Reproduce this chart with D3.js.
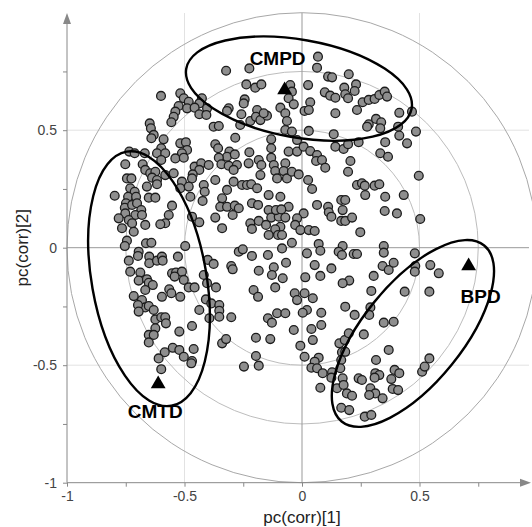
<!DOCTYPE html>
<html>
<head>
<meta charset="utf-8">
<script src="https://cdn.jsdelivr.net/npm/d3@7"></script>
<style>
  body { margin: 0; background: #fff; }
  text { font-family: "Liberation Sans", Arial, sans-serif; }
</style>
</head>
<body>
<script>
// loadings pc(corr)[1], pc(corr)[2], grouped by area
const upperLeft = [
  [-0.323,0.753],[-0.224,0.763],[-0.237,0.695],[-0.199,0.681],[-0.173,0.695],
  [-0.600,0.646],[-0.518,0.657],[-0.503,0.636],[-0.482,0.621],[-0.426,0.636],
  [-0.437,0.614],[-0.525,0.603],[-0.489,0.593],[-0.457,0.596],[-0.404,0.593],
  [-0.539,0.579],[-0.546,0.557],[-0.556,0.534],[-0.437,0.568],[-0.407,0.565],
  [-0.312,0.593],[-0.319,0.582],[-0.244,0.631],[-0.248,0.614],[-0.258,0.568],
  [-0.220,0.539],[-0.191,0.586],[-0.196,0.557],[-0.177,0.543],[-0.149,0.562],
  [-0.163,0.572],[-0.092,0.596],[-0.071,0.572],[-0.064,0.539],[-0.050,0.692],
  [-0.043,0.664],[-0.057,0.636],[-0.035,0.610],[-0.648,0.529],[-0.643,0.508],
  [-0.631,0.480],[-0.589,0.461],[-0.376,0.515],[-0.354,0.518],[-0.263,0.522],
  [-0.284,0.468],[-0.131,0.461],[-0.071,0.501],[-0.043,0.494]
];
const upperRight = [
  [0.068,0.813],[0.064,0.766],[0.111,0.728],[0.128,0.725],[0.199,0.738],
  [0.026,0.692],[0.097,0.661],[0.120,0.647],[0.142,0.638],[0.180,0.681],
  [0.184,0.653],[0.196,0.636],[0.230,0.695],[0.224,0.667],[0.258,0.619],
  [0.284,0.629],[0.309,0.633],[0.329,0.650],[0.352,0.664],[0.362,0.643],
  [0.035,0.619],[0.011,0.582],[0.029,0.586],[0.142,0.572],[0.234,0.586],
  [0.414,0.574],[0.468,0.579],[0.284,0.525],[0.277,0.515],[0.315,0.548],
  [0.337,0.534],[0.333,0.508],[0.409,0.515],[0.485,0.494],[0.414,0.477],
  [0.029,0.497],[0.135,0.483]
];
const midLeft = [
  [-0.641,0.466],[-0.518,0.444],[-0.494,0.449],[-0.489,0.416],[-0.511,0.402],
  [-0.539,0.380],[-0.503,0.383],[-0.599,0.423],[-0.617,0.402],[-0.582,0.402],
  [-0.599,0.373],[-0.735,0.409],[-0.712,0.402],[-0.669,0.402],[-0.752,0.355],
  [-0.678,0.355],[-0.667,0.331],[-0.646,0.317],[-0.624,0.323],[-0.638,0.298],
  [-0.617,0.288],[-0.582,0.309],[-0.546,0.317],[-0.511,0.281],[-0.518,0.253],
  [-0.745,0.295],[-0.726,0.295],[-0.617,0.270],[-0.369,0.440],[-0.357,0.423],
  [-0.309,0.409],[-0.319,0.387],[-0.286,0.397],[-0.354,0.383],[-0.343,0.355],
  [-0.312,0.349],[-0.277,0.352],[-0.291,0.331],[-0.457,0.345],[-0.429,0.359],
  [-0.397,0.352],[-0.437,0.331],[-0.465,0.312],[-0.468,0.295],[-0.482,0.260],
  [-0.475,0.217],[-0.418,0.267],[-0.414,0.238],[-0.423,0.199],[-0.369,0.288],
  [-0.319,0.246],[-0.291,0.281],[-0.255,0.267],[-0.234,0.267],[-0.216,0.270],
  [-0.191,0.253],[-0.224,0.406],[-0.227,0.359],[-0.184,0.373],[-0.173,0.352],
  [-0.177,0.309],[-0.131,0.423],[-0.131,0.383],[-0.120,0.352],[-0.114,0.326],
  [-0.071,0.359],[-0.078,0.326],[-0.064,0.295],[-0.057,0.409],[-0.106,0.295],
  [-0.142,0.224],[-0.092,0.217],[-0.340,0.210],[-0.348,0.174],[-0.319,0.174],
  [-0.286,0.179],[-0.269,0.168],[-0.295,0.139],[-0.213,0.189],[-0.187,0.182],
  [-0.142,0.160],[-0.131,0.128],[-0.099,0.132],[-0.071,0.128],[-0.057,0.174],
  [-0.220,0.104],[-0.213,0.080],[-0.184,0.114],[-0.153,0.097],[-0.092,0.089],
  [-0.369,0.128],[-0.340,0.083],[-0.468,0.132],[-0.437,0.108],[-0.553,0.179],
  [-0.567,0.139],[-0.582,0.104],[-0.603,0.100],[-0.797,0.221],[-0.731,0.253],
  [-0.712,0.238],[-0.740,0.217],[-0.706,0.217],[-0.660,0.260],[-0.652,0.213],
  [-0.624,0.213],[-0.749,0.189],[-0.754,0.170],[-0.752,0.146],[-0.723,0.182],
  [-0.702,0.189],[-0.684,0.160],[-0.709,0.139],[-0.780,0.125],[-0.737,0.118],
  [-0.723,0.104],[-0.681,0.139],[-0.766,0.083],[-0.716,0.068],[-0.667,0.097]
];
const midRight = [
  [-0.021,0.458],[-0.021,0.409],[0.007,0.430],[0.035,0.411],[0.064,0.394],
  [0.060,0.369],[0.085,0.373],[0.099,0.340],[0.142,0.430],[0.177,0.420],
  [0.196,0.440],[0.241,0.449],[0.354,0.449],[0.447,0.444],[0.333,0.402],
  [0.366,0.387],[0.206,0.369],[0.196,0.323],[-0.043,0.323],[-0.014,0.312],
  [0.026,0.288],[0.043,0.250],[0.234,0.267],[0.255,0.274],[0.267,0.264],
  [0.309,0.264],[0.329,0.270],[0.269,0.224],[0.354,0.217],[0.433,0.224],
  [0.497,0.306],[0.167,0.203],[0.184,0.203],[0.064,0.182],[0.111,0.174],
  [0.114,0.151],[0.125,0.132],[0.173,0.160],[0.167,0.114],[0.184,0.114],
  [0.213,0.128],[0.352,0.156],[0.404,0.146],[0.503,0.122],[0.007,0.146],
  [-0.021,0.125],[-0.029,0.097],[-0.007,0.075],[0.029,0.075],[0.054,0.071],
  [0.248,0.066],[-0.111,0.160],[-0.088,0.163],[-0.114,0.078]
];
const lowLeft = [
  [-0.745,0.030],[-0.754,0.007],[-0.664,0.019],[-0.641,0.021],[-0.497,0.007],
  [-0.695,-0.017],[-0.698,-0.035],[-0.650,-0.038],[-0.650,-0.066],[-0.617,-0.055],
  [-0.596,-0.038],[-0.593,-0.055],[-0.737,-0.055],[-0.528,-0.038],[-0.731,-0.102],
  [-0.688,-0.106],[-0.695,-0.140],[-0.660,-0.134],[-0.652,-0.149],[-0.635,-0.159],
  [-0.667,-0.180],[-0.553,-0.109],[-0.536,-0.106],[-0.511,-0.102],[-0.542,-0.123],
  [-0.503,-0.137],[-0.482,-0.169],[-0.457,-0.169],[-0.565,-0.177],[-0.556,-0.194],
  [-0.596,-0.209],[-0.518,-0.209],[-0.716,-0.206],[-0.681,-0.223],[-0.667,-0.254],
  [-0.698,-0.244],[-0.695,-0.272],[-0.652,-0.248],[-0.631,-0.265],[-0.624,-0.305],
  [-0.599,-0.296],[-0.582,-0.296],[-0.579,-0.322],[-0.624,-0.343],[-0.468,-0.333],
  [-0.437,-0.265],[-0.418,-0.116],[-0.401,-0.052],[-0.376,-0.069],[-0.404,-0.151],
  [-0.366,-0.169],[-0.409,-0.220],[-0.386,-0.237],[-0.352,-0.244],[-0.352,-0.268],
  [-0.394,-0.300],[-0.352,-0.294],[-0.301,-0.296],[-0.301,-0.078],[-0.295,-0.092],
  [-0.269,-0.017],[-0.252,-0.007],[-0.213,-0.035],[-0.145,-0.031],[-0.142,0.054],
  [-0.102,0.054],[-0.085,0.054],[-0.043,0.021],[-0.085,-0.003],[-0.068,-0.064],
  [-0.120,-0.083],[-0.128,-0.116],[-0.082,-0.130],[-0.184,-0.098],[-0.206,-0.180],
  [-0.187,-0.209],[-0.114,-0.169],[-0.031,-0.194],[-0.145,-0.300],[-0.128,-0.319],
  [-0.106,-0.279],[-0.071,-0.279]
];
const lowRight = [
  [0.071,0.016],[0.078,-0.013],[0.021,-0.024],[0.173,0.007],[0.156,-0.017],
  [0.170,-0.031],[0.220,-0.027],[0.234,-0.027],[0.348,0.007],[0.348,-0.021],
  [0.480,-0.024],[0.054,-0.074],[0.125,-0.088],[0.078,-0.120],[0.014,-0.126],
  [0.343,-0.078],[0.369,-0.095],[0.390,-0.064],[0.482,-0.078],[0.480,-0.102],
  [0.546,-0.074],[0.582,-0.109],[0.305,-0.120],[0.201,-0.140],[0.173,-0.151],
  [0.295,-0.184],[0.437,-0.187],[0.542,-0.187],[0.011,-0.194],[-0.021,-0.223],
  [0.046,-0.215],[0.184,-0.251],[0.224,-0.286],[0.291,-0.254],[0.286,-0.286],
  [0.021,-0.265],[0.003,-0.277],[0.082,-0.277],[0.082,-0.329],[0.348,-0.319],
  [0.390,-0.315]
];
const bottomLeft = [
  [-0.652,-0.371],[-0.631,-0.371],[-0.652,-0.403],[-0.522,-0.357],[-0.584,-0.445],
  [-0.610,-0.471],[-0.550,-0.426],[-0.522,-0.435],[-0.503,-0.464],[-0.461,-0.431],
  [-0.468,-0.482],[-0.471,-0.492],[-0.599,-0.517],[-0.340,-0.407],[-0.323,-0.389],
  [-0.196,-0.383],[-0.135,-0.389],[-0.196,-0.461],[-0.184,-0.502],[-0.247,-0.506]
];
const bottomRight = [
  [-0.035,-0.350],[0.040,-0.346],[0.046,-0.393],[-0.007,-0.417],[0.011,-0.464],
  [0.071,-0.468],[0.054,-0.485],[0.040,-0.511],[0.064,-0.513],[0.088,-0.534],
  [0.078,-0.596],[0.128,-0.530],[0.125,-0.553],[0.149,-0.598],[0.159,-0.407],
  [0.182,-0.393],[0.199,-0.364],[0.263,-0.369],[0.170,-0.445],[0.184,-0.443],
  [0.167,-0.478],[0.163,-0.513],[0.173,-0.556],[0.177,-0.584],[0.191,-0.620],
  [0.213,-0.630],[0.167,-0.681],[0.201,-0.691],[0.267,-0.719],[0.295,-0.712],
  [0.369,-0.435],[0.315,-0.478],[0.312,-0.534],[0.329,-0.542],[0.309,-0.553],
  [0.241,-0.556],[0.255,-0.563],[0.291,-0.598],[0.312,-0.620],[0.286,-0.627],
  [0.343,-0.641],[0.380,-0.559],[0.394,-0.520],[0.414,-0.534],[0.386,-0.601],
  [0.409,-0.606],[0.511,-0.528],[0.522,-0.506],[0.542,-0.471]
];

// class centroids (triangles)
const groupNames = ['CMPD', 'CMTD', 'BPD'];
const groupX = [-0.074, -0.612, 0.709];
const groupY = [0.671, -0.580, -0.078];

// hand-drawn ellipses: centre, semi-axes, tilt (deg)
const ellCx = [-0.013, -0.651, 0.472];
const ellCy = [0.677, -0.132, -0.365];
const ellRx = [0.487, 0.244, 0.482];
const ellRy = [0.208, 0.549, 0.212];
const ellTilt = [10, -10, -51];

const circleRadii = [1, 0.75, 0.5];
const majorTicks = [-1, -0.5, 0, 0.5];
const minorTicks = [-0.75, -0.25, 0.25, 0.75];
const gridTicks = [-0.5, 0.5];

const width = 532;
const height = 527;
const x = d3.scaleLinear().domain([-1, 1]).range([67, 537]);
const y = d3.scaleLinear().domain([-1, 1]).range([482.7, 12.7]);
const xEnd = 529;
const yEnd = 13;

const svg = d3.select('body').append('svg')
  .attr('width', width).attr('height', height);

// light grid
svg.selectAll('.gx').data(gridTicks).enter().append('line')
  .attr('x1', d => x(d)).attr('x2', d => x(d))
  .attr('y1', y(-1)).attr('y2', yEnd)
  .attr('stroke', '#e2e2e2').attr('stroke-width', 1);
svg.selectAll('.gy').data(gridTicks).enter().append('line')
  .attr('y1', d => y(d)).attr('y2', d => y(d))
  .attr('x1', x(-1)).attr('x2', xEnd)
  .attr('stroke', '#e2e2e2').attr('stroke-width', 1);

// correlation circles
svg.selectAll('.circ').data(circleRadii).enter().append('circle')
  .attr('cx', x(0)).attr('cy', y(0))
  .attr('r', d => x(d) - x(0))
  .attr('fill', 'none')
  .attr('stroke', (d, i) => i === 0 ? '#a8a8a8' : '#bdbdbd')
  .attr('stroke-width', 1);

// zero lines
svg.append('line')
  .attr('x1', x(0)).attr('x2', x(0)).attr('y1', y(-1)).attr('y2', yEnd)
  .attr('stroke', '#999').attr('stroke-width', 1);
svg.append('line')
  .attr('x1', x(-1)).attr('x2', xEnd).attr('y1', y(0)).attr('y2', y(0))
  .attr('stroke', '#999').attr('stroke-width', 1);

// axes: majors with labels, minors in their own groups
svg.append('g').attr('transform', `translate(${x(-1)},0)`)
  .call(d3.axisLeft(y).tickValues(majorTicks).tickSize(4).tickPadding(6)
    .tickFormat(d => String(d)));
svg.append('g').attr('transform', `translate(${x(-1)},0)`)
  .call(d3.axisLeft(y).tickValues(minorTicks).tickSize(4).tickFormat(''));
svg.append('g').attr('transform', `translate(0,${y(-1)})`)
  .call(d3.axisBottom(x).tickValues(majorTicks).tickSize(4).tickPadding(4)
    .tickFormat(d => String(d)));
svg.append('g').attr('transform', `translate(0,${y(-1)})`)
  .call(d3.axisBottom(x).tickValues(minorTicks).tickSize(4).tickFormat(''));
svg.selectAll('.domain').remove();
svg.selectAll('.tick line').attr('stroke', '#888');
svg.selectAll('.tick text')
  .attr('fill', '#444')
  .style('font-size', '14px')
  .style('font-family', '"Liberation Sans", Arial, sans-serif');

svg.append('line')
  .attr('x1', x(-1)).attr('x2', x(-1)).attr('y1', y(-1)).attr('y2', yEnd + 8)
  .attr('stroke', '#888').attr('stroke-width', 1);
svg.append('line')
  .attr('x1', x(-1)).attr('x2', xEnd - 8).attr('y1', y(-1)).attr('y2', y(-1))
  .attr('stroke', '#888').attr('stroke-width', 1);
svg.append('path')
  .attr('d', `M${x(-1)},${yEnd} L${x(-1) - 4},${yEnd + 11} L${x(-1) + 4},${yEnd + 11} Z`)
  .attr('fill', '#888');
svg.append('path')
  .attr('d', `M${xEnd + 2},${y(-1)} L${xEnd - 9},${y(-1) - 4} L${xEnd - 9},${y(-1) + 4} Z`)
  .attr('fill', '#888');

// axis titles
svg.append('text')
  .attr('x', x(0)).attr('y', 523)
  .attr('text-anchor', 'middle')
  .style('font-size', '17px').attr('fill', '#222')
  .text('pc(corr)[1]');
svg.append('text')
  .attr('transform', `translate(28,${y(0)}) rotate(-90)`)
  .attr('text-anchor', 'middle')
  .style('font-size', '17px').attr('fill', '#222')
  .text('pc(corr)[2]');

// points
const points = [].concat(upperLeft, upperRight, midLeft, midRight,
  lowLeft, lowRight, bottomLeft, bottomRight);
svg.append('g').selectAll('circle')
  .data(points).enter().append('circle')
  .attr('cx', d => x(d[0]))
  .attr('cy', d => y(d[1]))
  .attr('r', 4.4)
  .attr('fill', '#8e8e8e')
  .attr('stroke', '#1c1c1c')
  .attr('stroke-width', 1.3);

// ellipses
svg.append('g').selectAll('ellipse')
  .data(groupNames).enter().append('ellipse')
  .attr('transform', (d, i) => `translate(${x(ellCx[i])},${y(ellCy[i])}) rotate(${ellTilt[i]})`)
  .attr('rx', (d, i) => x(ellRx[i]) - x(0))
  .attr('ry', (d, i) => y(0) - y(ellRy[i]))
  .attr('fill', 'none')
  .attr('stroke', '#000')
  .attr('stroke-width', 2.4);

// centroids + labels
const tri = d3.symbol().type(d3.symbolTriangle).size(95);
svg.append('g').selectAll('path')
  .data(groupNames).enter().append('path')
  .attr('d', tri)
  .attr('transform', (d, i) => `translate(${x(groupX[i])},${y(groupY[i])})`)
  .attr('fill', '#000');
const labelDx = [-7, -3, 12];
const labelDy = [-25, 34, 37];
svg.append('g').selectAll('text')
  .data(groupNames).enter().append('text')
  .attr('x', (d, i) => x(groupX[i]) + labelDx[i])
  .attr('y', (d, i) => y(groupY[i]) + labelDy[i])
  .attr('text-anchor', 'middle')
  .style('font-size', '19px')
  .style('font-weight', 'bold')
  .attr('fill', '#000')
  .text(d => d);
</script>
</body>
</html>
